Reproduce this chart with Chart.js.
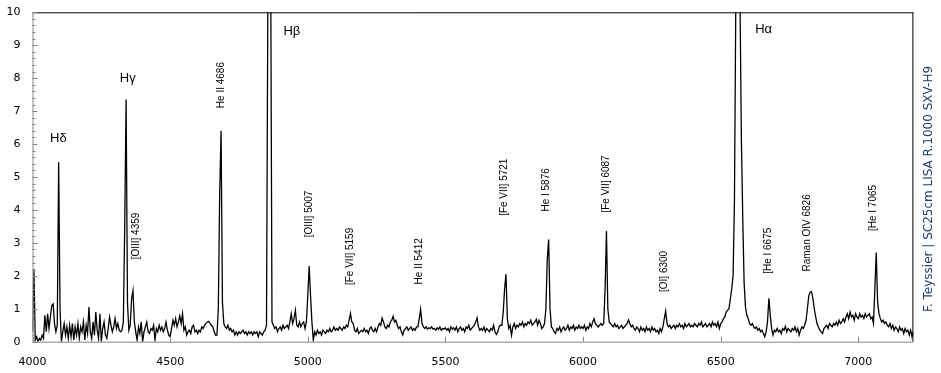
<!DOCTYPE html>
<html lang="en">
<head>
<meta charset="UTF-8">
<title>Spectre</title>
<script src="https://cdn.jsdelivr.net/npm/chart.js"></script>
<style>
  html, body { margin: 0; padding: 0; background: #fff; }
</style>
</head>
<body>
<canvas id="spec" width="941" height="373"></canvas>
<script>
// spectre : flux relatif, un point tous les 5 A depuis 4000 A
const wlStart = 4000;
const wlStep = 5;
const flux = [
  0.3, 2.2, 0.05, 0.15, 0.0, 0.1, 0.05, 0.2, 0.1, 0.8, 0.3, 0.85, 0.4, 0.75, 1.1, 1.15, 0.55, 0.3, 0.5, 5.45,
  1.0, 0.0, 0.3, 0.55, 0.2, 0.45, 0.1, 0.5, 0.15, 0.55, 0.05, 0.45, 0.2, 0.55, 0.1, 0.45, 0.3, 0.6, 0.05, 0.5,
  0.25, 1.05, 0.3, 0.1, 0.6, 0.2, 0.9, 0.35, 0.1, 0.85, 0.0, 0.4, 0.6, 0.2, 0.1, 0.4, 0.75, 0.5, 0.3, 0.45,
  0.7, 0.4, 0.55, 0.35, 0.3, 0.35, 0.6, 3.5, 7.35, 1.2, 0.35, 0.5, 1.3, 1.55, 0.6, 0.3, 0.05, 0.45, 0.25, 0.6,
  0.0, 0.3, 0.45, 0.6, 0.3, 0.25, 0.4, 0.35, 0.5, 0.05, 0.4, 0.3, 0.5, 0.35, 0.45, 0.3, 0.4, 0.6, 0.35, 0.2,
  0.15, 0.4, 0.65, 0.5, 0.7, 0.45, 0.6, 0.78, 0.55, 0.85, 0.35, 0.45, 0.2, 0.3, 0.35, 0.25, 0.45, 0.5, 0.3, 0.35,
  0.25, 0.35, 0.3, 0.45, 0.4, 0.5, 0.55, 0.6, 0.62, 0.55, 0.5, 0.45, 0.3, 0.2, 0.2, 1.0, 4.5, 6.4, 1.2, 0.55,
  0.45, 0.4, 0.5, 0.35, 0.4, 0.3, 0.35, 0.2, 0.3, 0.2, 0.3, 0.25, 0.3, 0.35, 0.25, 0.3, 0.2, 0.3, 0.25, 0.3,
  0.2, 0.3, 0.25, 0.3, 0.15, 0.3, 0.25, 0.2, 0.3, 0.35, 0.5, 10.5, 30, 12, 0.6, 0.5, 0.4, 0.45, 0.3, 0.4,
  0.45, 0.35, 0.5, 0.4, 0.45, 0.5, 0.4, 0.6, 0.85, 0.55, 0.7, 0.95, 0.5, 0.45, 0.6, 0.45, 0.55, 0.6, 0.4, 0.6,
  1.4, 2.3, 1.4, 0.6, 0.05, 0.3, 0.2, 0.35, 0.25, 0.3, 0.2, 0.35, 0.3, 0.25, 0.35, 0.3, 0.4, 0.3, 0.35, 0.45,
  0.35, 0.4, 0.35, 0.45, 0.4, 0.35, 0.45, 0.4, 0.5, 0.45, 0.65, 0.86, 0.6, 0.55, 0.35, 0.3, 0.4, 0.25, 0.3, 0.35,
  0.3, 0.4, 0.3, 0.35, 0.25, 0.4, 0.45, 0.35, 0.3, 0.4, 0.3, 0.45, 0.55, 0.5, 0.72, 0.6, 0.45, 0.4, 0.5, 0.45,
  0.6, 0.65, 0.77, 0.6, 0.65, 0.5, 0.4, 0.45, 0.3, 0.2, 0.35, 0.4, 0.45, 0.35, 0.4, 0.45, 0.35, 0.4, 0.35, 0.45,
  0.45, 0.7, 0.98, 0.55, 0.45, 0.4, 0.45, 0.38, 0.42, 0.4, 0.45, 0.38, 0.4, 0.35, 0.42, 0.38, 0.45, 0.35, 0.4, 0.38,
  0.42, 0.35, 0.4, 0.3, 0.45, 0.38, 0.42, 0.35, 0.45, 0.3, 0.4, 0.45, 0.35, 0.4, 0.3, 0.45, 0.4, 0.5, 0.35, 0.4,
  0.45, 0.5, 0.6, 0.72, 0.45, 0.35, 0.4, 0.35, 0.45, 0.3, 0.4, 0.35, 0.3, 0.4, 0.35, 0.5, 0.3, 0.22, 0.3, 0.45,
  0.5, 0.5, 0.9, 1.6, 2.05, 0.7, 0.4, 0.5, 0.2, 0.45, 0.55, 0.4, 0.5, 0.45, 0.55, 0.5, 0.6, 0.45, 0.55, 0.5,
  0.6, 0.55, 0.65, 0.5, 0.55, 0.6, 0.68, 0.5, 0.65, 0.55, 0.4, 0.45, 0.55, 1.0, 2.5, 3.1, 1.0, 0.45, 0.4, 0.3,
  0.25, 0.4, 0.35, 0.45, 0.3, 0.4, 0.45, 0.35, 0.4, 0.5, 0.35, 0.45, 0.4, 0.5, 0.35, 0.45, 0.4, 0.5, 0.4, 0.45,
  0.4, 0.5, 0.35, 0.45, 0.4, 0.55, 0.45, 0.6, 0.7, 0.55, 0.5, 0.45, 0.5, 0.55, 0.5, 0.55, 1.6, 3.36, 1.0, 0.6,
  0.55, 0.5, 0.45, 0.55, 0.45, 0.5, 0.4, 0.45, 0.5, 0.4, 0.45, 0.5, 0.55, 0.66, 0.55, 0.45, 0.5, 0.4, 0.35, 0.45,
  0.4, 0.3, 0.45, 0.35, 0.4, 0.3, 0.45, 0.35, 0.4, 0.3, 0.45, 0.35, 0.4, 0.3, 0.35, 0.25, 0.4, 0.3, 0.45, 0.7,
  0.93, 0.55, 0.45, 0.5, 0.4, 0.45, 0.5, 0.4, 0.5, 0.45, 0.55, 0.45, 0.5, 0.4, 0.55, 0.45, 0.5, 0.55, 0.45, 0.5,
  0.45, 0.55, 0.5, 0.45, 0.55, 0.5, 0.6, 0.45, 0.5, 0.55, 0.45, 0.5, 0.55, 0.45, 0.6, 0.5, 0.55, 0.45, 0.6, 0.4,
  0.55, 0.6, 0.7, 0.75, 0.9, 0.95, 1.0, 1.3, 1.6, 2.0, 4.3, 10.5, 30, 30, 10.5, 6.2, 3.8, 1.8, 1.05, 0.8,
  0.7, 0.55, 0.5, 0.55, 0.45, 0.4, 0.45, 0.35, 0.4, 0.3, 0.35, 0.25, 0.15, 0.3, 0.6, 1.32, 0.8, 0.4, 0.2, 0.35,
  0.3, 0.4, 0.3, 0.35, 0.25, 0.4, 0.35, 0.47, 0.3, 0.4, 0.35, 0.3, 0.4, 0.35, 0.45, 0.3, 0.4, 0.2, 0.35, 0.45,
  0.4, 0.5, 0.65, 1.0, 1.4, 1.5, 1.52, 1.3, 1.0, 0.75, 0.55, 0.45, 0.35, 0.3, 0.25, 0.4, 0.45, 0.5, 0.4, 0.55,
  0.5, 0.45, 0.55, 0.5, 0.6, 0.5, 0.65, 0.55, 0.6, 0.7, 0.6, 0.75, 0.85, 0.7, 0.9, 0.75, 0.8, 0.65, 0.85, 0.75,
  0.7, 0.85, 0.75, 0.8, 0.7, 0.85, 0.75, 0.8, 0.85, 0.7, 0.75, 0.55, 1.6, 2.71, 1.2, 0.85, 0.7, 0.6, 0.65, 0.55,
  0.6, 0.5, 0.45, 0.55, 0.4, 0.5, 0.35, 0.45, 0.4, 0.3, 0.45, 0.35, 0.4, 0.25, 0.4, 0.3, 0.35, 0.2, 0.35, 0.15,
  0.3
];

const xTicks = [4000, 4500, 5000, 5500, 6000, 6500, 7000];
const yTicks = [0, 1, 2, 3, 4, 5, 6, 7, 8, 9, 10];

// raies de Balmer (texte horizontal)
const balmerNames = ['H\u03b4', 'H\u03b3', 'H\u03b2', 'H\u03b1'];
const balmerWl = [4094, 4346, 4942, 6656];
const balmerLevel = [6.17, 7.98, 9.41, 9.49];

// autres raies (texte vertical, niveau = bas du texte)
const lineNames = ['[OIII] 4359', 'He II 4686', '[OIII] 5007', '[Fe VII] 5159', 'He II 5412',
  '[Fe VII] 5721', 'He I 5876', '[Fe VII] 6087', '[OI] 6300', '[He I 6675', 'Raman OIV 6826', '[He I 7065'];
const lineWl = [4376, 4684, 5005, 5156, 5404, 5713, 5866, 6084, 6295, 6672, 6813, 7053];
const lineLevel = [2.50, 7.09, 3.17, 1.72, 1.74, 3.82, 3.95, 3.92, 1.51, 2.06, 2.13, 3.36];

const credit = 'F. Teyssier | SC25cm LISA R.1000 SXV-H9';

const points = flux.map((f, i) => ({ x: wlStart + i * wlStep, y: f }));

// cadre + petites graduations vers l'interieur
const framePlugin = {
  id: 'frame',
  afterDatasetsDraw(chart) {
    const { ctx, chartArea: a, scales: { x, y } } = chart;
    ctx.save();
    ctx.lineWidth = 1;
    ctx.strokeStyle = '#000';
    ctx.beginPath();
    ctx.moveTo(a.left, a.top + 0.5); ctx.lineTo(a.right, a.top + 0.5);
    ctx.moveTo(a.right - 0.5, a.top); ctx.lineTo(a.right - 0.5, a.bottom);
    ctx.stroke();
    ctx.strokeStyle = '#868686';
    ctx.beginPath();
    ctx.moveTo(a.left + 0.5, a.top); ctx.lineTo(a.left + 0.5, a.bottom);
    ctx.moveTo(a.left, a.bottom + 0.5); ctx.lineTo(a.right, a.bottom + 0.5);
    for (let v = 0; v <= 10.001; v += 0.2) {
      const py = Math.round(y.getPixelForValue(v)) + 0.5;
      const major = Math.abs(v - Math.round(v)) < 0.01;
      ctx.moveTo(a.left, py); ctx.lineTo(a.left + (major ? 5 : 3), py);
    }
    xTicks.forEach(v => {
      const px = Math.round(x.getPixelForValue(v)) + 0.5;
      ctx.moveTo(px, a.bottom); ctx.lineTo(px, a.bottom - 5);
    });
    ctx.stroke();
    ctx.restore();
  }
};

// noms des raies
const labelPlugin = {
  id: 'raies',
  afterDraw(chart) {
    const { ctx, scales: { x, y } } = chart;
    ctx.save();
    ctx.fillStyle = '#000';
    ctx.font = '13px "Liberation Sans", Arial, sans-serif';
    ctx.textAlign = 'center';
    ctx.textBaseline = 'middle';
    balmerNames.forEach((n, i) => {
      ctx.fillText(n, x.getPixelForValue(balmerWl[i]), y.getPixelForValue(balmerLevel[i]));
    });
    ctx.font = '10px "Liberation Sans", Arial, sans-serif';
    ctx.textAlign = 'left';
    lineNames.forEach((n, i) => {
      ctx.save();
      ctx.translate(x.getPixelForValue(lineWl[i]), y.getPixelForValue(lineLevel[i]));
      ctx.rotate(-Math.PI / 2);
      ctx.fillText(n, 0, 0);
      ctx.restore();
    });
    ctx.save();
    ctx.fillStyle = '#1f3b73';
    ctx.font = '12px "DejaVu Sans", Verdana, sans-serif';
    ctx.textAlign = 'center';
    ctx.translate(929, 189);
    ctx.rotate(-Math.PI / 2);
    ctx.fillText(credit, 0, 0);
    ctx.restore();
    ctx.restore();
  }
};

new Chart(document.getElementById('spec'), {
  type: 'line',
  data: {
    datasets: [{
      data: points,
      borderColor: '#000',
      borderWidth: 1.3,
      pointRadius: 0,
      tension: 0,
      fill: false,
      clip: 0
    }]
  },
  options: {
    responsive: false,
    animation: false,
    devicePixelRatio: 1,
    layout: { padding: { top: 12.3, right: 27.6, bottom: 0, left: 0 } },
    plugins: { legend: { display: false }, tooltip: { enabled: false } },
    scales: {
      x: {
        type: 'linear',
        min: 4000,
        max: 7200,
        afterBuildTicks: s => { s.ticks = xTicks.map(v => ({ value: v })); },
        afterFit: s => { s.height = 31.3; s.paddingLeft = 0; s.paddingRight = 0; },
        grid: { display: false, drawTicks: false },
        border: { display: false },
        ticks: {
          color: '#000',
          font: { family: '"DejaVu Sans", Verdana, sans-serif', size: 11 },
          padding: 14,
          maxRotation: 0,
          autoSkip: false,
          callback: v => String(v)
        }
      },
      y: {
        min: 0,
        max: 10,
        afterBuildTicks: s => { s.ticks = yTicks.map(v => ({ value: v })); },
        afterFit: s => { s.width = 32.5; s.paddingTop = 0; s.paddingBottom = 0; },
        grid: { display: false, drawTicks: false },
        border: { display: false },
        ticks: {
          color: '#000',
          font: { family: '"DejaVu Sans", Verdana, sans-serif', size: 11 },
          padding: 12
        }
      }
    }
  },
  plugins: [framePlugin, labelPlugin]
});
</script>
</body>
</html>
